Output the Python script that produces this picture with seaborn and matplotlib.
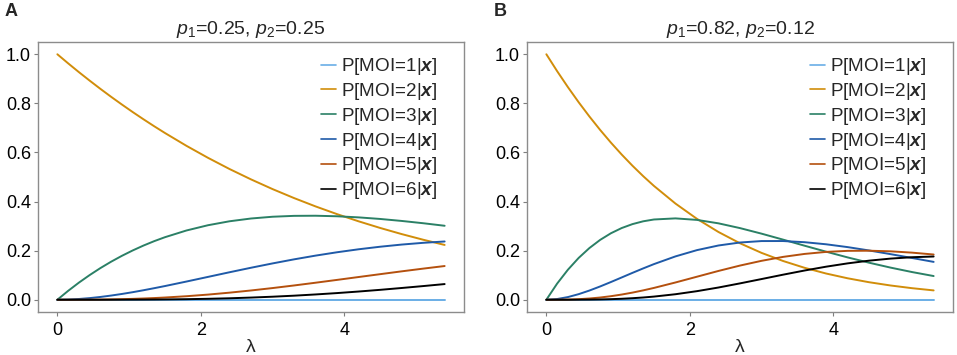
import matplotlib
matplotlib.use("Agg")
import matplotlib.pyplot as plt
import seaborn as sns
import pandas as pd

# ---------------- data ----------------
lam = [0.0, 0.15, 0.3, 0.45, 0.6, 0.75, 0.9, 1.05, 1.2, 1.35, 1.5, 1.8, 2.1, 2.4, 2.7,
       3.0, 3.3, 3.6, 3.9, 4.2, 4.5, 4.8, 5.1, 5.4]

# Panel A: p1=0.25, p2=0.25
a_moi1 = [0.0] * 24
a_moi2 = [1.0, 0.9631, 0.9273, 0.8927, 0.8591, 0.8266, 0.7952, 0.7647, 0.7353, 0.7068,
          0.6793, 0.6270, 0.5782, 0.5326, 0.4903, 0.4508, 0.4142, 0.3802, 0.3487, 0.3195,
          0.2925, 0.2675, 0.2445, 0.2232]
a_moi3 = [0.0, 0.0361, 0.0696, 0.1004, 0.1289, 0.1550, 0.1789, 0.2007, 0.2206, 0.2386,
          0.2547, 0.2821, 0.3035, 0.3196, 0.3309, 0.3381, 0.3417, 0.3422, 0.3400, 0.3355,
          0.3291, 0.3210, 0.3117, 0.3013]
a_moi4 = [0.0, 0.0008, 0.0030, 0.0066, 0.0113, 0.0170, 0.0235, 0.0307, 0.0386, 0.0470,
          0.0557, 0.0741, 0.0930, 0.1119, 0.1303, 0.1479, 0.1645, 0.1797, 0.1934, 0.2055,
          0.2159, 0.2247, 0.2318, 0.2373]
a_moi5 = [0.0, 0.0000, 0.0001, 0.0003, 0.0007, 0.0014, 0.0023, 0.0035, 0.0050, 0.0068,
          0.0090, 0.0143, 0.0209, 0.0288, 0.0377, 0.0475, 0.0581, 0.0693, 0.0808, 0.0925,
          0.1041, 0.1156, 0.1267, 0.1373]
a_moi6 = [0.0, 0.0000, 0.0000, 0.0000, 0.0000, 0.0001, 0.0002, 0.0003, 0.0005, 0.0008,
          0.0012, 0.0022, 0.0038, 0.0059, 0.0088, 0.0123, 0.0165, 0.0215, 0.0271, 0.0334,
          0.0403, 0.0478, 0.0556, 0.0638]

# Panel B: p1=0.82, p2=0.12
b_moi1 = [0.0] * 24
b_moi2 = [1.0, 0.9313, 0.8663, 0.8047, 0.7466, 0.6917, 0.6401, 0.5916, 0.5461, 0.5035,
          0.4637, 0.3918, 0.3295, 0.2759, 0.2300, 0.1909, 0.1579, 0.1301, 0.1068, 0.0874,
          0.0713, 0.0580, 0.0470, 0.0380]
b_moi3 = [0.0, 0.0657, 0.1221, 0.1702, 0.2105, 0.2438, 0.2708, 0.2920, 0.3080, 0.3195,
          0.3269, 0.3314, 0.3252, 0.3112, 0.2918, 0.2692, 0.2449, 0.2201, 0.1958, 0.1725,
          0.1508, 0.1308, 0.1127, 0.0965]
b_moi4 = [0.0, 0.0029, 0.0108, 0.0227, 0.0374, 0.0541, 0.0721, 0.0907, 0.1094, 0.1276,
          0.1451, 0.1765, 0.2021, 0.2210, 0.2331, 0.2390, 0.2391, 0.2344, 0.2259, 0.2144,
          0.2007, 0.1857, 0.1700, 0.1542]
b_moi5 = [0.0, 0.0001, 0.0007, 0.0023, 0.0050, 0.0090, 0.0144, 0.0211, 0.0290, 0.0381,
          0.0481, 0.0703, 0.0938, 0.1173, 0.1392, 0.1585, 0.1745, 0.1866, 0.1948, 0.1991,
          0.1997, 0.1972, 0.1918, 0.1842]
b_moi6 = [0.0, 0.0000, 0.0000, 0.0002, 0.0005, 0.0012, 0.0023, 0.0039, 0.0062, 0.0091,
          0.0128, 0.0224, 0.0349, 0.0498, 0.0666, 0.0842, 0.1020, 0.1190, 0.1346, 0.1481,
          0.1592, 0.1676, 0.1732, 0.1761]

series_labels = [r"P[MOI=%d|$\mathbfit{x}$]" % k for k in range(1, 7)]
panel_titles = [r"$\mathit{p}_1$=0.25, $\mathit{p}_2$=0.25",
                r"$\mathit{p}_1$=0.82, $\mathit{p}_2$=0.12"]
panel_tags = ["A", "B"]
x_ticks = [0, 2, 4]
y_ticks = [0.0, 0.2, 0.4, 0.6, 0.8, 1.0]

colors = ["#6AAEE6", "#D18D0A", "#2B8066", "#1F5AA8", "#B4500E", "#000000"]

# ---------------- style ----------------
sns.set_theme(style="white")
plt.rcParams["font.family"] = ["Liberation Sans", "DejaVu Sans"]
plt.rcParams["mathtext.fontset"] = "custom"
plt.rcParams["mathtext.rm"] = "Liberation Sans"
plt.rcParams["mathtext.it"] = "Liberation Sans:italic"
plt.rcParams["mathtext.bf"] = "Liberation Sans:bold"
plt.rcParams["mathtext.bfit"] = "Liberation Sans:italic:bold"


def long_frame(cols):
    rows = []
    for lab, vals in zip(series_labels, cols):
        for x, v in zip(lam, vals):
            rows.append({"lam": x, "P": v, "series": lab})
    return pd.DataFrame(rows)


frames = [long_frame([a_moi1, a_moi2, a_moi3, a_moi4, a_moi5, a_moi6]),
          long_frame([b_moi1, b_moi2, b_moi3, b_moi4, b_moi5, b_moi6])]

W, H = 957, 355
fig = plt.figure(figsize=(W / 100, H / 100), dpi=100)
lefts = [38, 527]
ax_w = 426
top, bottom = 42, 312
palette = dict(zip(series_labels, colors))

for i, df in enumerate(frames):
    ax = fig.add_axes([lefts[i] / W, 1 - bottom / H, ax_w / W, (bottom - top) / H])
    sns.lineplot(data=df, x="lam", y="P", hue="series", hue_order=series_labels,
                 palette=palette, linewidth=1.4, ax=ax, sort=False)
    ax.set_xlim(-0.27, 5.67)
    ax.set_ylim(-0.05, 1.05)
    ax.set_xticks(x_ticks)
    ax.set_xticklabels([str(t) for t in x_ticks])
    ax.set_yticks(y_ticks)
    ax.set_yticklabels(["%.1f" % t for t in y_ticks])
    ax.tick_params(axis="both", which="both", direction="out", length=3, width=0.8,
                   color="#7f7f7f", labelsize=13, labelcolor="black", pad=2,
                   bottom=True, left=True)
    ax.tick_params(axis="x", pad=4)
    for sp in ax.spines.values():
        sp.set_color("#8c8c8c")
        sp.set_linewidth(1.0)
    ax.set_xlabel("λ", fontsize=14, labelpad=0)
    ax.set_ylabel("")
    ax.set_title(panel_titles[i], fontsize=14, pad=6)
    leg = ax.legend(loc="upper right", bbox_to_anchor=(0.956, 0.975), frameon=False,
                    fontsize=13.6, handlelength=0.8, handletextpad=0.28,
                    labelspacing=0.2, borderaxespad=0.0)
    for h in leg.legend_handles:
        h.set_linewidth(1.2)
    fig.text((lefts[i] - 33) / W, 1 - 12 / H, panel_tags[i], fontsize=13,
             fontweight="bold", va="center", ha="left")

fig.savefig("out.png", dpi=100)
